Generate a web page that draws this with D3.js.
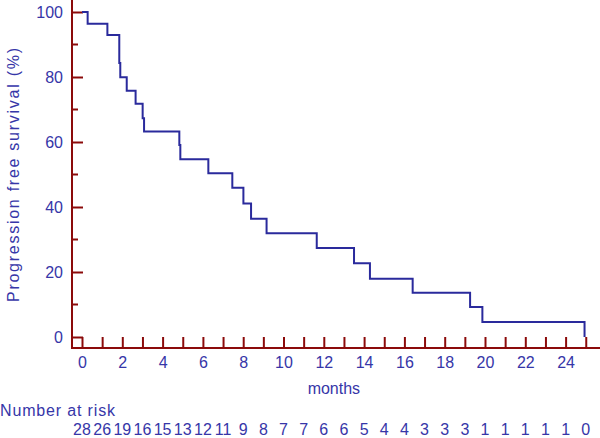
<!DOCTYPE html>
<html>
<head>
<meta charset="utf-8">
<title>Progression free survival</title>
<script src="https://cdn.jsdelivr.net/npm/d3@7"></script>
<style>
body {
  margin: 0;
  background: #fff;
}
svg text {
  font-family: "Liberation Sans", Arial, sans-serif;
  font-size: 16px;
  fill: #3636a8;
}
</style>
</head>
<body>
<div id="chart"></div>
<script>
// step times (months) and survival (%) after each drop
var times = [0, 0.28, 1.26, 1.85, 1.90, 2.22, 2.66, 3.01, 3.08, 4.83, 4.88, 6.27, 7.46,
             8.01, 8.39, 9.16, 11.65, 13.50, 14.29, 16.41, 19.26, 19.87, 24.94];
var survival = [100, 96.4, 92.9, 84.3, 79.9, 75.8, 71.8, 67.3, 63.2, 59.1, 54.7, 50.4, 45.9,
                41.1, 36.4, 31.9, 27.4, 22.7, 17.9, 13.6, 9.2, 4.6, 0];
var riskMonths = d3.range(0, 26);
var atRisk = [28, 26, 19, 16, 15, 13, 12, 11, 9, 8, 7, 7, 6, 6, 5, 4, 4, 3, 3, 3, 1, 1, 1, 1, 1, 0];
var yTicks = [0, 20, 40, 60, 80, 100];
var yMinor = [10, 30, 50, 70, 90];

var W = 600, H = 438;
var axisCol = "#8b0a0a", lineCol = "#2a2a9c";

var svg = d3.select("#chart").append("svg")
  .attr("width", W).attr("height", H);

var x = d3.scaleLinear().domain([0, 25]).range([82, 585.75]);
var y = d3.scaleLinear().domain([0, 100]).range([337, 12]);
var axX = 72, axY = 348;

// axis lines
svg.append("line").attr("x1", axX).attr("x2", axX).attr("y1", 0).attr("y2", axY)
  .attr("stroke", axisCol).attr("stroke-width", 2);
svg.append("line").attr("x1", axX - 1).attr("x2", W).attr("y1", axY).attr("y2", axY)
  .attr("stroke", axisCol).attr("stroke-width", 2);

// x axis
var gx = svg.append("g").attr("transform", "translate(0," + axY + ")")
  .call(d3.axisBottom(x).tickValues(riskMonths).tickSizeInner(-11).tickSizeOuter(0)
    .tickPadding(9).tickFormat(function(d) { return d % 2 ? "" : d; }));
gx.select(".domain").remove();
gx.selectAll(".tick line").attr("stroke", axisCol).attr("stroke-width", 2);
gx.selectAll(".tick text").attr("fill", null).attr("font-size", null).attr("font-family", null);

// y axis
var gy = svg.append("g").attr("transform", "translate(" + axX + ",0)")
  .call(d3.axisLeft(y).tickValues(yTicks).tickSizeInner(-11).tickSizeOuter(0).tickPadding(9));
gy.select(".domain").remove();
gy.selectAll(".tick line").attr("stroke", axisCol).attr("stroke-width", 2);
gy.selectAll(".tick text").attr("fill", null).attr("font-size", null).attr("font-family", null);

svg.append("g").selectAll("line").data(yMinor).join("line")
  .attr("x1", axX).attr("x2", axX + 6)
  .attr("y1", function(d) { return y(d); }).attr("y2", function(d) { return y(d); })
  .attr("stroke", axisCol).attr("stroke-width", 2);

// survival curve
var pts = times.map(function(t, i) { return [t, survival[i]]; });
var line = d3.line()
  .x(function(d) { return x(d[0]); })
  .y(function(d) { return y(d[1]); })
  .curve(d3.curveStepAfter);
svg.append("path").datum(pts)
  .attr("d", line)
  .attr("fill", "none")
  .attr("stroke", lineCol)
  .attr("stroke-width", 2);

// titles
svg.append("text")
  .attr("transform", "translate(19,175) rotate(-90)")
  .attr("text-anchor", "middle")
  .attr("textLength", 254).attr("lengthAdjust", "spacing")
  .text("Progression free survival  (%)");

svg.append("text")
  .attr("x", (x(0) + x(25)) / 2).attr("y", 394)
  .attr("text-anchor", "middle")
  .text("months");

svg.append("text")
  .attr("x", 0).attr("y", 416)
  .attr("textLength", 115).attr("lengthAdjust", "spacing")
  .text("Number at risk");

svg.append("g").selectAll("text").data(atRisk).join("text")
  .attr("x", function(d, i) { return x(riskMonths[i]); })
  .attr("y", 435)
  .attr("text-anchor", "middle")
  .text(function(d) { return d; });
</script>
</body>
</html>
